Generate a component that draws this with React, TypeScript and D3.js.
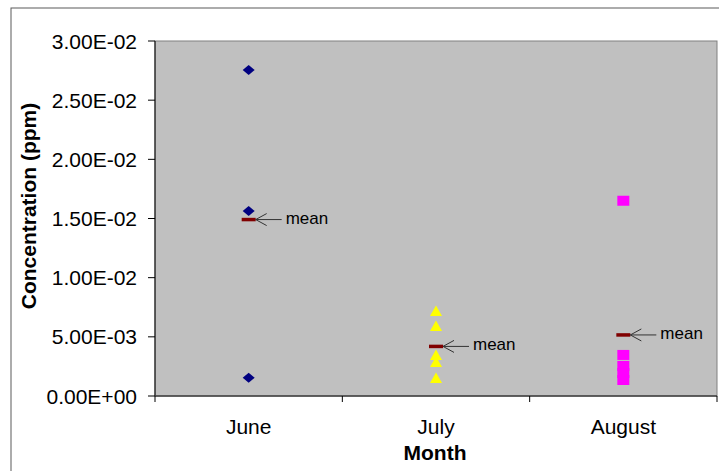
import React from "react";
import * as d3 from "d3";

const months = ["June", "July", "August"];
const juneValues = [0.02755, 0.01563, 0.00155];
const julyValues = [0.00718, 0.00592, 0.00346, 0.00287, 0.00152];
const augustValues = [0.0165, 0.00347, 0.00254, 0.00194, 0.00135];
const yTicks = [0, 0.005, 0.01, 0.015, 0.02, 0.025, 0.03];
const seriesValues = [juneValues, julyValues, augustValues];
const seriesShapes = ["diamond", "triangle", "square"];
const seriesColors = ["#000080", "#FFFF00", "#FF00FF"];

const W = 719;
const H = 471;
const plot = { left: 155, top: 41, right: 717, bottom: 396 };
const FONT = "Arial, 'Liberation Sans', sans-serif";

function markerPath(shape: string, cx: number, cy: number): string {
  const p = d3.path();
  if (shape === "diamond") {
    p.moveTo(cx, cy - 5);
    p.lineTo(cx + 6, cy);
    p.lineTo(cx, cy + 5);
    p.lineTo(cx - 6, cy);
    p.closePath();
  } else if (shape === "triangle") {
    p.moveTo(cx, cy - 5.5);
    p.lineTo(cx + 6, cy + 5);
    p.lineTo(cx - 6, cy + 5);
    p.closePath();
  } else {
    p.rect(cx - 6, cy - 5, 12, 10);
  }
  return p.toString();
}

function fmtSci(v: number): string {
  const s = v.toExponential(2).toUpperCase(); // e.g. 3.00E-2
  const m = s.match(/^(-?[\d.]+)E([+-])(\d+)$/);
  if (!m) return s;
  return `${m[1]}E${m[2]}${m[3].padStart(2, "0")}`;
}

export default function App() {
  const x = d3.scaleBand<string>().domain(months).range([plot.left, plot.right]).padding(0);
  const y = d3.scaleLinear().domain([0, 0.03]).range([plot.bottom, plot.top]);
  const bw = x.bandwidth();

  return (
    <svg
      width={W}
      height={H}
      style={{ position: "absolute", left: 0, top: 0, background: "#fff" }}
      fontFamily={FONT}
    >
      {/* outer chart frame */}
      <rect x={11} y={8} width={W + 20} height={H + 20} fill="#fff" stroke="#5a5a5a" strokeWidth={1} />

      {/* plot area */}
      <rect
        x={plot.left}
        y={plot.top}
        width={plot.right - plot.left}
        height={plot.bottom - plot.top}
        fill="#C0C0C0"
        stroke="#808080"
        strokeWidth={1}
      />

      {/* y axis */}
      <line x1={plot.left} x2={plot.left} y1={plot.top} y2={plot.bottom} stroke="#000" strokeWidth={1} />
      {yTicks.map((t) => (
        <g key={t}>
          <line x1={plot.left - 7} x2={plot.left} y1={y(t)} y2={y(t)} stroke="#000" strokeWidth={1} />
          <text x={137} y={y(t)} dy="0.36em" textAnchor="end" fontSize={21} fill="#000">
            {fmtSci(t)}
          </text>
        </g>
      ))}

      {/* x axis */}
      <line x1={plot.left} x2={plot.right} y1={plot.bottom} y2={plot.bottom} stroke="#404040" strokeWidth={1.5} />
      {[...months.map((m) => x(m) as number), plot.right].map((bx, i) => (
        <line key={i} x1={bx} x2={bx} y1={plot.bottom} y2={plot.bottom + 6} stroke="#000" strokeWidth={1} />
      ))}
      {months.map((m) => (
        <text key={m} x={(x(m) as number) + bw / 2} y={434} textAnchor="middle" fontSize={21} fill="#000">
          {m}
        </text>
      ))}

      {/* axis titles */}
      <text x={(plot.left + plot.right) / 2 - 1} y={460} textAnchor="middle" fontSize={21} fontWeight="bold" fill="#000">
        Month
      </text>
      <text
        transform={`translate(36,206) rotate(-90)`}
        textAnchor="middle"
        fontSize={21}
        fontWeight="bold"
        fill="#000"
      >
        Concentration (ppm)
      </text>

      {/* data points */}
      {seriesValues.map((vals, si) => {
        const cx = (x(months[si]) as number) + bw / 2;
        return (
          <g key={si}>
            {vals.map((v, i) => (
              <path key={i} d={markerPath(seriesShapes[si], cx, y(v))} fill={seriesColors[si]} />
            ))}
          </g>
        );
      })}

      {/* means */}
      {seriesValues.map((vals, si) => {
        const cx = (x(months[si]) as number) + bw / 2;
        const mv = d3.mean(vals) as number;
        const my = y(mv);
        const tip = cx + 7;
        return (
          <g key={"m" + si}>
            <rect x={cx - 7} y={my - 1.75} width={14} height={3.5} fill="#800000" />
            <line x1={tip} x2={tip + 26} y1={my} y2={my} stroke="#333" strokeWidth={1} />
            <path d={`M${tip + 11},${my - 6}L${tip},${my}L${tip + 11},${my + 6}`} fill="none" stroke="#333" strokeWidth={1} />
            <text x={tip + 30} y={my + 4} fontSize={17} fill="#000">
              mean
            </text>
          </g>
        );
      })}
    </svg>
  );
}
